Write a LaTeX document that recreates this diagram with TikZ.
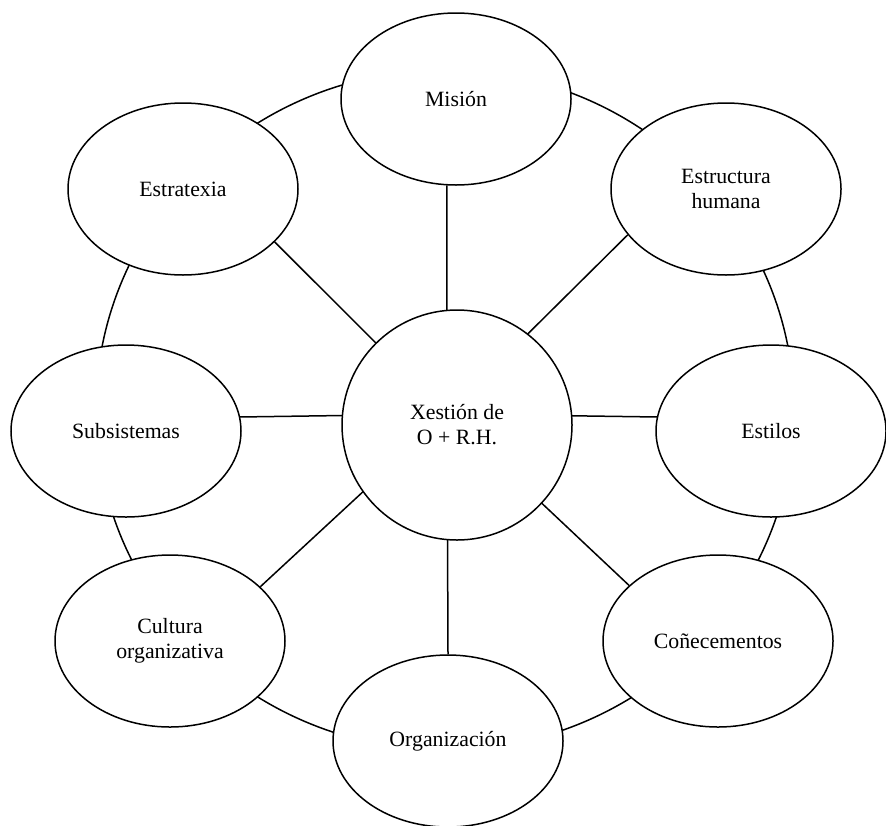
\documentclass[tikz,border=0pt]{standalone}
\usepackage{fontspec}
\setmainfont{Liberation Serif}
\usetikzlibrary{shapes.geometric}
\begin{document}
\begin{tikzpicture}[x=0.5pt,y=-0.5pt,
  txt/.style={font=\fontsize{10.9}{12.5}\selectfont, align=center},
  bubble/.style={txt, draw, line width=0.75pt, fill=white, ellipse,
    minimum width=115pt, minimum height=86pt, inner sep=0pt},
  hubcircle/.style={txt, draw, line width=0.75pt, fill=white, circle,
    minimum size=115pt, inner sep=0pt},
  link/.style={line width=0.75pt}]
\useasboundingbox (0,0) rectangle (886,825);
\fill[white] (0,0) rectangle (886,825);
% outer ring
\draw[link] (445,410) ellipse [x radius=349, y radius=340];
% outer bubbles
\node[bubble] (mis) at (456,99)  {Misión};
\node[bubble] (est) at (726,189) {Estructura\\humana};
\node[bubble] (sti) at (771,431) {Estilos};
\node[bubble] (con) at (718,641) {Coñecementos};
\node[bubble] (org) at (448,741) {Organización};
\node[bubble] (cul) at (170,641) {Cultura\\organizativa};
\node[bubble] (sub) at (126,431) {Subsistemas};
\node[bubble] (etx) at (183,189) {Estratexia};
% spokes
\coordinate (hub) at (447,414);
\draw[link] (hub) -- (mis.-96);
\draw[link] (hub) -- (est.-155);
\draw[link] (hub) -- (sti.173);
\draw[link] (hub) -- (con.148);
\draw[link] (hub) -- (org.90);
\draw[link] (hub) -- (cul.31);
\draw[link] (hub) -- (sub.7);
\draw[link] (hub) -- (etx.-30);
% centre
\node[hubcircle] (c) at (457,425) {Xestión de\\O + R.H.};
\end{tikzpicture}
\end{document}
